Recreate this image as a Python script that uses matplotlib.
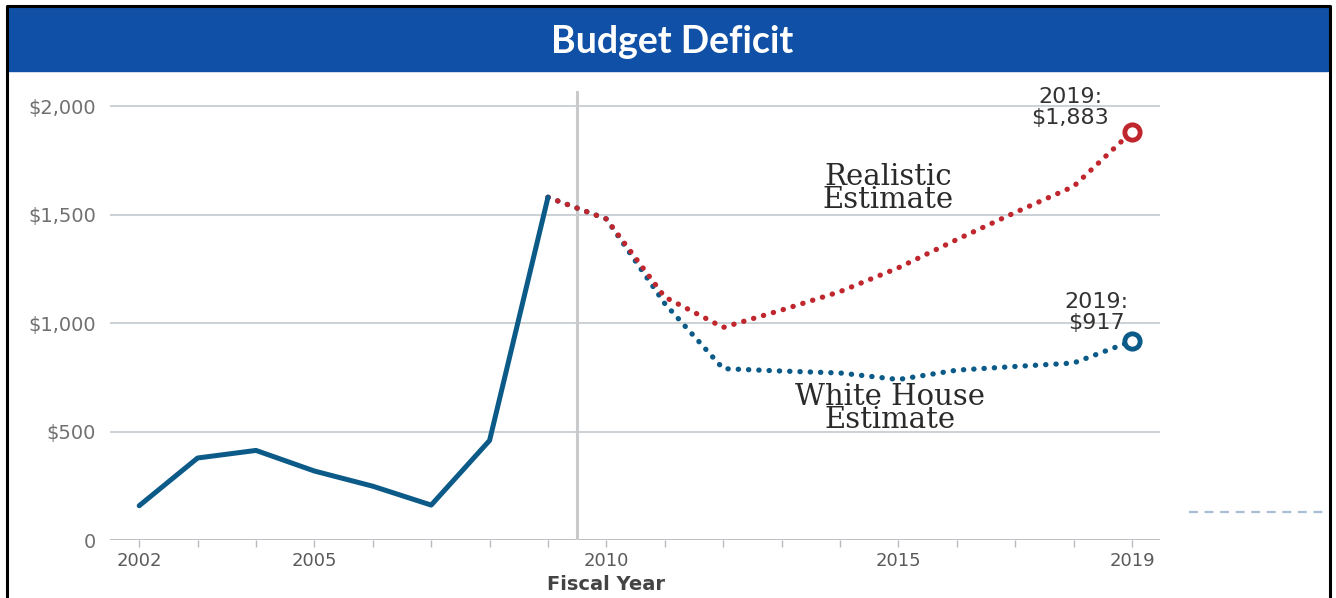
import matplotlib.pyplot as plt
from matplotlib.lines import Line2D
from matplotlib.patches import Rectangle
from matplotlib.ticker import FuncFormatter

# Federal budget deficit, billions of dollars
actual_years = [2002, 2003, 2004, 2005, 2006, 2007, 2008, 2009]
actual_deficit = [158, 378, 413, 318, 248, 161, 459, 1580]

proj_years = [2009, 2010, 2011, 2012, 2013, 2014, 2015, 2016, 2017, 2018, 2019]
realistic = [1580, 1480, 1120, 980, 1060, 1145, 1255, 1385, 1510, 1630, 1883]
white_house = [1580, 1480, 1090, 790, 779, 770, 740, 783, 800, 816, 917]

y_ticks = [0, 500, 1000, 1500, 2000]
x_labels = [2002, 2005, 2010, 2015, 2019]

BLUE = "#0b5a87"
RED = "#c0262d"
HEADER = "#1050a6"

fig = plt.figure(figsize=(13.36, 5.98), dpi=100)

# header band and frame
fig.patches.append(Rectangle((8 / 1336, 1 - 71 / 598), 1320 / 1336, 64 / 598,
                             transform=fig.transFigure, color=HEADER, zorder=0))
fig.text(672 / 1336, 1 - 42 / 598, "Budget Deficit", color="white", fontsize=27,
         fontweight="bold", family="Lato", ha="center", va="center")
fig.lines.append(Line2D([7 / 1336, 7 / 1336, 1330 / 1336, 1330 / 1336],
                        [0, 1 - 6 / 598, 1 - 6 / 598, 0],
                        transform=fig.transFigure, color="black", lw=2.2))
fig.lines.append(Line2D([1189 / 1336, 1328 / 1336], [1 - 512 / 598] * 2,
                        transform=fig.transFigure, color="#a9bdd5", lw=1.6,
                        ls=(0, (4, 3))))

ax = fig.add_axes([110 / 1336, 58 / 598, 1050 / 1336, 449 / 598])
ax.set_xlim(2001.5, 2019.48)
ax.set_ylim(0, 2070)

for y in y_ticks[1:]:
    ax.axhline(y, color="#bfc5ca", lw=1.1, zorder=1)
ax.axhline(0, color="#b8bcc0", lw=1.3, zorder=1)
ax.axvline(2009.5, color="#c8cacc", lw=2.2, zorder=1)

ax.plot(actual_years, actual_deficit, color=BLUE, lw=3.6, solid_capstyle="round",
        solid_joinstyle="round", zorder=4)

dots = (0, (0.05, 1.9))
ax.plot(proj_years, white_house, color=BLUE, lw=3.8, ls=dots,
        dash_capstyle="round", zorder=3)
ax.plot(proj_years, realistic, color=RED, lw=3.8, ls=dots,
        dash_capstyle="round", zorder=3)
ax.plot(proj_years[-1], realistic[-1], "o", ms=11, mfc="white", mec=RED,
        mew=3.5, zorder=5)
ax.plot(proj_years[-1], white_house[-1], "o", ms=11, mfc="white", mec=BLUE,
        mew=3.5, zorder=5)

label_kw = dict(family="DejaVu Serif", fontsize=21, color="#2a2a2a", ha="center",
                va="center", multialignment="center", linespacing=0.8)
ax.text(2014.83, 1620, "Realistic\nEstimate", **label_kw)
ax.text(2014.85, 606, "White House\nEstimate", **label_kw)

value_kw = dict(fontsize=16, color="#333333", ha="center", va="center",
                multialignment="center", linespacing=1.05)
ax.text(2017.94, 1995, f"{proj_years[-1]}:\n${realistic[-1]:,}", **value_kw)
ax.text(2018.39, 1050, f"{proj_years[-1]}:\n${white_house[-1]:,}", **value_kw)

ax.set_yticks(y_ticks)
ax.yaxis.set_major_formatter(FuncFormatter(lambda v, p: "0" if v == 0 else f"${v:,.0f}"))
ax.set_xticks(x_labels)
ax.set_xticks(range(2002, 2020), minor=True)
ax.tick_params(axis="y", length=0, pad=10, labelsize=14, labelcolor="#707070")
ax.tick_params(axis="x", which="both", length=5, width=1, color="#b8bcc0",
               pad=4, labelsize=13, labelcolor="#5a5a5a")
ax.set_xlabel("Fiscal Year", fontsize=14, color="#444444", fontweight="semibold")
ax.xaxis.set_label_coords(0.472, -0.078)
for s in ax.spines.values():
    s.set_visible(False)

fig.savefig("out.png", dpi=100)
